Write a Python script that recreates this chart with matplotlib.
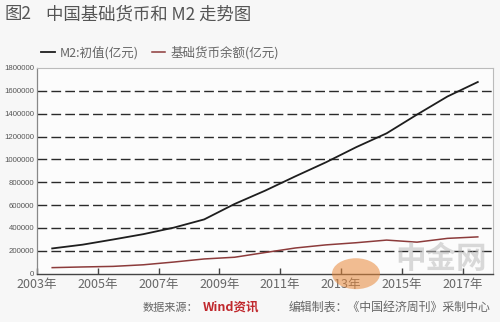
import matplotlib
matplotlib.use("Agg")
import matplotlib.pyplot as plt
from matplotlib.patches import Circle

plt.rcParams['font.family'] = ['Noto Sans CJK SC', 'DejaVu Sans']

years = list(range(2003, 2018))
m2 = [221000, 254000, 299000, 346000, 403000, 475000, 610000, 726000,
      852000, 974000, 1107000, 1228000, 1392000, 1550000, 1677000]
base_money = [53000, 59000, 64000, 78000, 102000, 129000, 144000, 185000,
              225000, 252000, 271000, 294000, 276000, 309000, 322000]
tick_years = ["2003年", "2005年", "2007年", "2009年", "2011年", "2013年", "2015年", "2017年"]
y_ticks = [0, 200000, 400000, 600000, 800000, 1000000, 1200000, 1400000, 1600000, 1800000]
series_names = ["M2:初值(亿元)", "基础货币余额(亿元)"]

fig = plt.figure(figsize=(5.0, 3.22), dpi=100, facecolor='#f7f7f7')
ax = fig.add_axes([0.074, 0.150, 0.912, 0.639])
ax.set_facecolor('#fcfcfc')

xs = [i + 0.5 for i in range(len(years))]
ax.plot(xs, m2, color='#1e1e1e', lw=1.3, label=series_names[0], zorder=3)
ax.plot(xs, base_money, color='#8c3b3b', lw=1.1, label=series_names[1], zorder=3)

ax.set_xlim(0, len(years))
ax.set_ylim(0, 1800000)

# dashed horizontal grid
for v in y_ticks[1:-1]:
    ax.axhline(v, color='#2a2a2a', lw=1.0, ls=(0, (7, 3)), zorder=1)

ax.set_yticks(y_ticks)
ax.set_yticklabels([str(v) for v in y_ticks], family=['Liberation Sans', 'DejaVu Sans'],
                   fontsize=5.6, color='#555555')
ax.set_xticks(range(0, len(years), 2))
ax.set_xticklabels(tick_years, fontsize=9, color='#666666')
ax.tick_params(axis='x', direction='in', length=4, width=1, color='#444444', pad=3)
ax.tick_params(axis='y', direction='out', length=0, pad=2)

for s in ['top', 'right']:
    ax.spines[s].set_color('#bbbbbb')
    ax.spines[s].set_linewidth(0.8)
ax.spines['left'].set_color('#888888')
ax.spines['left'].set_linewidth(0.9)
ax.spines['bottom'].set_color('#444444')
ax.spines['bottom'].set_linewidth(1.0)

leg = ax.legend(loc='lower left', bbox_to_anchor=(0.0, 1.02), ncol=2, frameon=False,
                fontsize=9, handlelength=1.1, handletextpad=0.4, columnspacing=1.0,
                borderaxespad=0.15, borderpad=0.2)
for t in leg.get_texts():
    t.set_color('#666666')

fig.text(0.01, 0.955, "图2", fontsize=12.5, color='#555555', va='center', ha='left')
fig.text(0.093, 0.955, "中国基础货币和 M2 走势图", fontsize=12.5, color='#555555',
         va='center', ha='left')

fig.text(0.286, 0.045, "数据来源：", fontsize=8, color='#666666', va='center', ha='left')
fig.text(0.405, 0.045, "Wind资讯", fontsize=9, color='#c0282d', va='center', ha='left',
         fontweight='bold', style='italic')
fig.text(0.578, 0.045, "编辑制表：《中国经济周刊》采制中心", fontsize=8.6, color='#666666',
         va='center', ha='left')

# watermark
fig.patches.append(Circle((0.712, 0.15), 0.048, transform=fig.transFigure,
                          facecolor='#e8883a', alpha=0.55, edgecolor='none', zorder=5))
fig.text(0.79, 0.195, "中金网", fontsize=22, color='#bbbbbb', alpha=0.55,
         va='center', ha='left', fontweight='bold', zorder=5)

fig.savefig("out.png", dpi=100, facecolor=fig.get_facecolor())
